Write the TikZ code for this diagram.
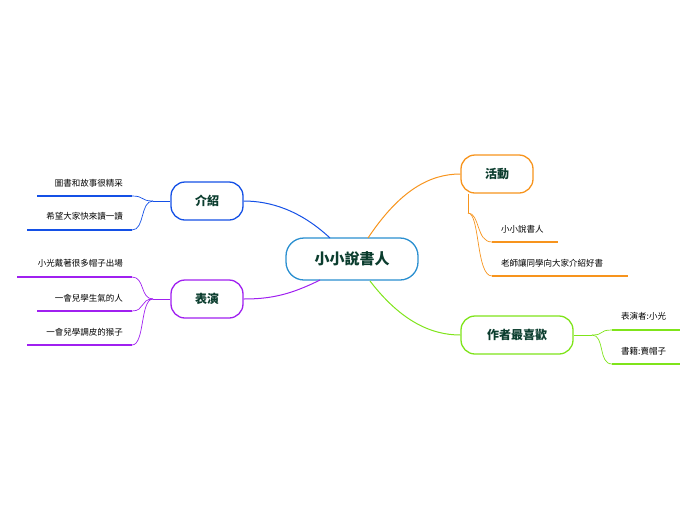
\documentclass[tikz,border=0pt]{standalone}
\usepackage{fontspec}
\setmainfont{Noto Sans CJK TC}
\definecolor{cO}{HTML}{F7941D}
\definecolor{cG}{HTML}{7FE41A}
\definecolor{cB}{HTML}{1450E6}
\definecolor{cP}{HTML}{A020F0}
\definecolor{cC}{HTML}{2A8FD0}
\definecolor{tx}{HTML}{0B3D2E}
\begin{document}
\begin{tikzpicture}[x=1pt,y=-1pt,
  topic/.style={draw=#1,line width=1.3pt,rounded corners=14pt,fill=white,text=tx,font=\bfseries\fontsize{12}{14}\selectfont,minimum height=38pt,inner sep=2pt},
  leaf/.style={font=\fontsize{8.5}{10}\selectfont,text=black,inner sep=1pt},
  ul/.style={draw=#1,line width=2pt},
  br/.style={draw=#1,line width=0.7pt}]
\useasboundingbox (0,0) rectangle (696,520);
\node[topic=cC,minimum width=132pt,minimum height=42pt,rounded corners=18pt,font=\bfseries\fontsize{15}{17}\selectfont] (c) at (352,259) {小小說書人};
\node[topic=cO,minimum width=72pt] (a) at (497,174) {活動};
\node[topic=cG,minimum width=112pt] (f) at (517,335) {作者最喜歡};
\node[topic=cB,minimum width=72pt] (i) at (207,201) {介紹};
\node[topic=cP,minimum width=72pt] (p) at (207,299) {表演};
\draw[cO,line width=1pt] (368,238) .. controls (400,190) and (430,174) .. (a.west);
\draw[cG,line width=1pt] (370,281) .. controls (400,320) and (430,335) .. (f.west);
\draw[cB,line width=1pt] (330,238) .. controls (300,210) and (270,201) .. (i.east);
\draw[cP,line width=1pt] (320,280) .. controls (290,295) and (270,299) .. (p.east);
% leaves left
\coordinate (i0) at (153,201); \coordinate (p0) at (153,299);
\coordinate (a0) at (468,213); \coordinate (f0) at (592,335);
\foreach \n/\y/\xa/\t/\ty in {l1/196/37/圖書和故事很精采/183, l2/230/27/希望大家快來讀一讀/216}{
  \draw[ul=cB] (\xa,\y) -- (132,\y) coordinate (\n);
  \node[leaf,anchor=east] at (124,\ty) {\t};
  \draw[br=cB] (\n) .. controls (145,\y) and (140,201) .. (i0);}
\draw[br=cB] (i0) -- (i.west);
\foreach \n/\y/\xa/\t/\ty in {l3/277/17/小光戴著很多帽子出場/263, l4/311/37/一會兒學生氣的人/298, l5/345/27/一會兒學調皮的猴子/332}{
  \draw[ul=cP] (\xa,\y) -- (132,\y) coordinate (\n);
  \node[leaf,anchor=east] at (124,\ty) {\t};
  \draw[br=cP] (\n) .. controls (145,\y) and (140,299) .. (p0);}
\draw[br=cP] (p0) -- (p.west);
\draw[br=cO] (a.south -| 468,0) -- (a0);
\foreach \n/\y/\xb/\t/\ty in {r1/242/558/小小說書人/229, r2/276/628/老師讓同學向大家介紹好書/263}{
  \draw[ul=cO] (492,\y) coordinate (\n) -- (\xb,\y);
  \node[leaf,anchor=west] at (500,\ty) {\t};
  \draw[br=cO] (a0) .. controls (480,213) and (476,\y) .. (\n);}
\draw[br=cG] (f.east) -- (f0);
\foreach \n/\y/\t/\ty in {r3/330/表演者:小光/316, r4/364/書籍:賣帽子/351}{
  \draw[ul=cG] (612,\y) coordinate (\n) -- (680,\y);
  \node[leaf,anchor=west] at (620,\ty) {\t};
  \draw[br=cG] (f0) .. controls (605,335) and (598,\y) .. (\n);}
\end{tikzpicture}
\end{document}
